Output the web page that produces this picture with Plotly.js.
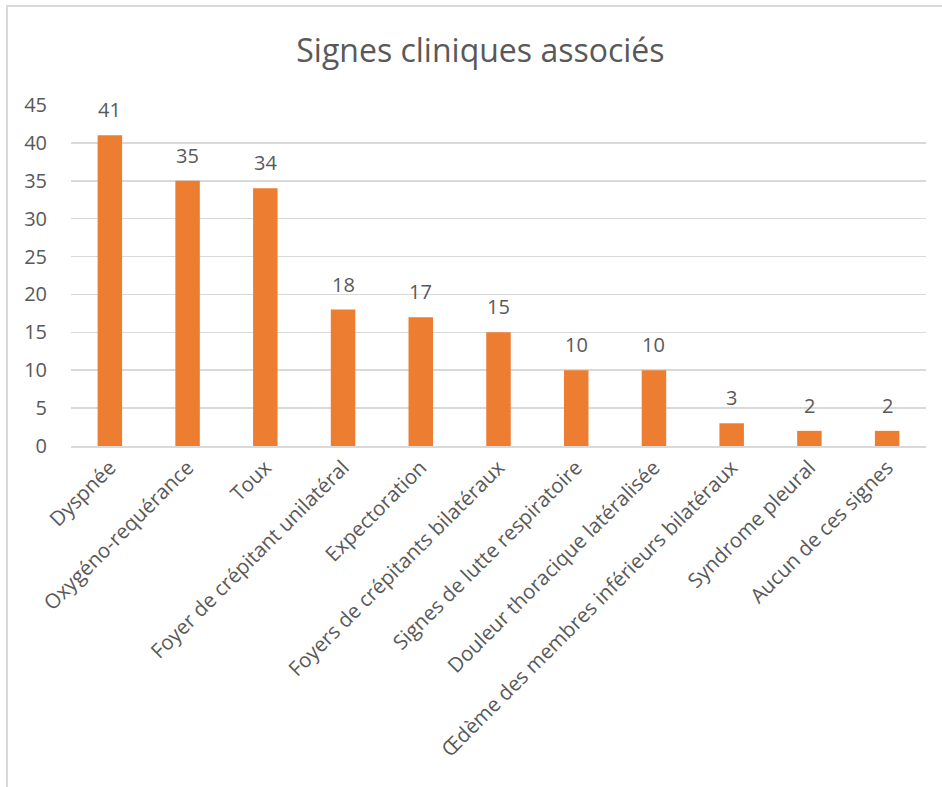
<!DOCTYPE html>
<html>
<head>
<meta charset="utf-8">
<script src="https://cdn.plot.ly/plotly-3.0.1.min.js"></script>
<style>
html,body{margin:0;padding:0;background:#fff;}
#wrap{position:relative;width:942px;height:787px;}
#chart{width:942px;height:787px;}
#frame{position:absolute;left:6px;top:5px;width:940px;height:790px;border-left:2px solid #d9d9d9;border-top:2px solid #d9d9d9;pointer-events:none;}
</style>
</head>
<body>
<div id="wrap"><div id="chart"></div><div id="frame"></div></div>
<script>
const categories = [
  "Dyspnée",
  "Oxygéno-requérance",
  "Toux",
  "Foyer de crépitant unilatéral",
  "Expectoration",
  "Foyers de crépitants bilatéraux",
  "Signes de lutte respiratoire",
  "Douleur thoracique latéralisée",
  "Œdème des membres inférieurs bilatéraux",
  "Syndrome pleural",
  "Aucun de ces signes"
];
const values = [41, 35, 34, 18, 17, 15, 10, 10, 3, 2, 2];
const yTicks = [0, 5, 10, 15, 20, 25, 30, 35, 40, 45];
const chartTitle = "Signes cliniques associés";

const font = "Open Sans, Lato, sans-serif";
const textColor = "#595959";

const labelAnnotations = categories.map((c, i) => ({
  x: c,
  y: values[i],
  xref: "x",
  yref: "y",
  text: String(values[i]),
  showarrow: false,
  yanchor: "bottom",
  xanchor: "center",
  yshift: 10,
  font: {family: font, size: 20, color: textColor}
}));

Plotly.newPlot("chart", [{
  type: "bar",
  x: categories,
  y: values,
  marker: {color: "#ED7D31"},
  hoverinfo: "x+y"
}], {
  width: 942,
  height: 787,
  margin: {l: 71, r: 16, t: 105, b: 341},
  paper_bgcolor: "#ffffff",
  plot_bgcolor: "#ffffff",
  font: {family: font, color: textColor},
  title: {text: chartTitle, font: {family: font, size: 32, color: textColor}, x: 0.51, xanchor: "center", y: 0.936, yanchor: "middle"},
  bargap: 0.685,
  showlegend: false,
  annotations: labelAnnotations,
  xaxis: {
    tickangle: -45,
    tickfont: {family: font, size: 20.5, color: textColor},
    showgrid: false,
    showline: true,
    linecolor: "#d9d9d9",
    linewidth: 1.5,
    ticks: "",
    automargin: false
  },
  yaxis: {
    range: [0, 45],
    tickvals: yTicks,
    ticktext: yTicks.map(String),
    tickfont: {family: font, size: 20, color: textColor},
    showgrid: true,
    gridcolor: "#d9d9d9",
    gridwidth: 1.5,
    zeroline: false,
    showline: false,
    ticks: "",
    ticklabelstandoff: 23,
    automargin: false
  }
}, {displayModeBar: false, staticPlot: true});
</script>
</body>
</html>
